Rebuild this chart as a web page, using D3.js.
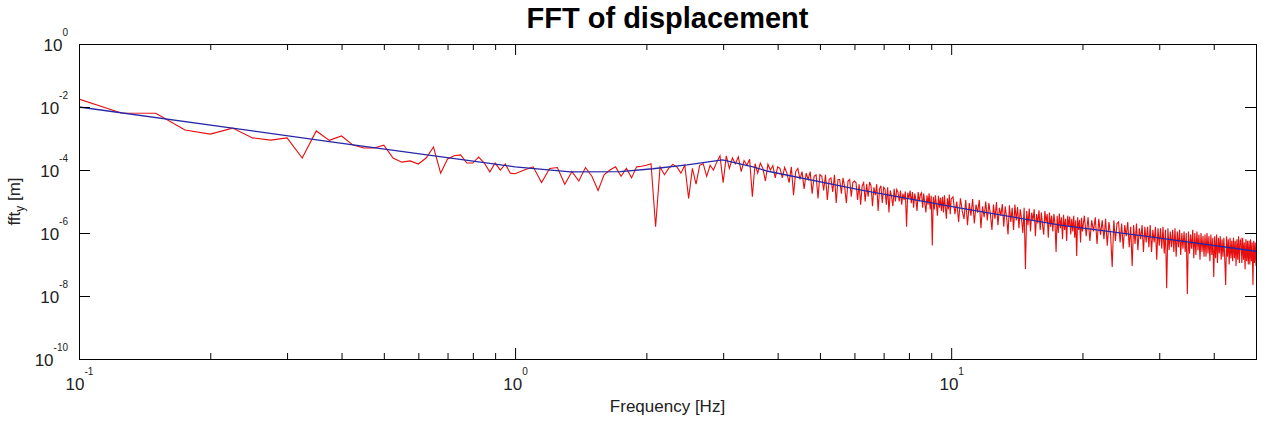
<!DOCTYPE html>
<html>
<head>
<meta charset="utf-8">
<script src="https://cdn.jsdelivr.net/npm/d3@7"></script>
<style>
  body { margin: 0; background: #fff; }
  svg { display: block; font-family: "Liberation Sans", Arial, Helvetica, sans-serif; }
</style>
</head>
<body>
<div id="chart"></div>
<script>
// FFT amplitude, stored as log10 of metres.
// Bins are evenly spaced; the dense part is thinned to a coarser step.
const lowStart = 0.1, lowStep = 0.025;
const lowExp = [
  -1.75, -2.19, -2.20, -2.73, -2.86, -2.67, -2.98, -3.05, -2.98, -3.62,
  -2.76, -3.06, -2.92, -3.21, -3.30, -3.30, -3.21, -3.62, -3.75, -3.71,
  -3.81, -3.62, -3.27, -4.10, -3.65, -3.55, -3.52, -3.78, -3.78, -3.59,
  -3.78, -4.06, -3.78, -4.00, -3.81, -4.10, -4.12,
];

const midStart = 1.05, midStep = 0.05;
const midExp = [
  -4.00, -3.90, -4.40, -3.95, -3.92, -4.45, -4.05, -4.35, -3.92, -4.20,
  -4.65, -4.15, -4.00, -3.90, -4.20, -3.95, -4.25, -3.90, -3.88, -3.85,
  -3.80, -5.80, -3.90, -4.15, -3.95, -3.82, -3.90, -4.10, -3.85, -4.90,
  -3.95, -4.45, -3.85, -3.80, -4.20, -3.85, -4.00, -3.75, -3.55, -4.40,
];

const highStart = 3.05, highStep = 0.05;
const highExp = [
  -3.55, -3.95, -3.62, -3.80, -3.58, -4.05, -3.70, -3.85, -3.66, -4.85,
  -3.80, -4.10, -3.78, -3.95, -4.35, -3.82, -4.00, -3.86, -4.25, -3.90,
  -3.95, -4.25, -3.92, -4.10, -4.40, -3.90, -4.80, -4.05, -3.95, -4.30,
  -4.05, -4.60, -4.10, -4.30, -4.05, -4.75, -4.20, -4.15, -4.90, -4.15,
  -4.20, -4.65, -4.15, -4.95, -4.30, -4.25, -4.70, -4.15, -5.05, -4.30,
  -4.30, -4.75, -4.25, -4.55, -5.05, -4.35, -4.30, -4.85, -4.40, -4.35,
  -4.40, -4.95, -4.45, -5.10, -4.50, -4.40, -5.00, -4.45, -4.85, -4.38,
  -4.50, -5.15, -4.55, -4.80, -4.45, -5.30, -4.60, -4.50, -5.05, -4.55,
  -4.60, -5.10, -4.55, -5.35, -4.65, -4.85, -5.15, -4.60, -5.00, -4.62,
  -4.70, -5.00, -4.65, -5.10, -4.75, -4.95, -4.68, -5.80, -4.72, -4.90,
  -4.65, -5.05, -4.70, -5.20, -4.75, -4.95, -5.30, -4.70, -5.00, -4.78,
  -4.72, -5.20, -4.75, -5.05, -5.35, -4.80, -5.10, -4.74, -5.25, -4.82,
  -6.40, -4.85, -5.25, -4.80, -5.10, -5.45, -4.82, -5.20, -4.88, -5.30,
  -4.85, -5.35, -4.80, -5.20, -5.55, -4.90, -5.25, -4.78, -5.40, -4.92,
];

const decStart = 10.1, decStep = 0.1;
const decExp = [
  -4.85, -5.40, -5.00, -5.65, -4.90, -5.30, -5.55, -4.95, -5.75, -5.05,
  -5.45, -4.92, -5.70, -5.10, -5.35, -4.95, -5.85, -5.15, -5.50, -5.00,
  -5.60, -5.05, -5.40, -5.90, -5.10, -5.55, -5.02, -5.75, -5.20, -5.45,
  -5.08, -5.80, -5.15, -5.50, -6.05, -5.12, -5.65, -5.20, -5.90, -5.10,
  -5.60, -5.18, -5.85, -5.25, -5.55, -6.00, -5.20, -7.14, -5.30, -5.75,
  -5.22, -5.95, -5.35, -5.60, -5.25, -6.10, -5.40, -5.70, -5.28, -5.90,
  -5.35, -5.75, -6.05, -5.30, -5.65, -5.40, -6.15, -5.35, -5.80, -5.45,
  -5.95, -5.40, -5.70, -6.60, -5.45, -6.00, -5.38, -5.85, -5.50, -6.20,
  -5.42, -5.90, -5.55, -6.25, -5.45, -5.80, -5.48, -6.05, -5.55, -5.95,
  -5.45, -6.15, -5.60, -6.73, -5.50, -5.90, -5.58, -6.30, -5.52, -5.95,
];

const topStart = 20.2, topStep = 0.2;
const topExp = [
  -5.45, -6.10, -5.50, -6.25, -5.60, -5.95, -5.50, -6.35, -5.55, -6.05,
  -5.60, -6.20, -5.55, -6.40, -5.65, -6.05, -7.08, -5.60, -6.25, -5.70,
  -5.65, -6.30, -5.70, -6.50, -5.75, -6.10, -5.65, -6.45, -5.80, -7.05,
  -5.75, -6.35, -5.70, -6.55, -5.85, -6.20, -5.75, -6.60, -5.80, -6.30,
  -5.80, -6.45, -5.75, -6.60, -5.90, -6.30, -5.80, -6.85, -5.85, -6.40,
  -5.85, -6.50, -5.80, -6.65, -5.90, -7.75, -5.85, -6.55, -5.95, -6.45,
  -5.90, -6.60, -5.85, -6.75, -5.95, -6.45, -5.90, -6.70, -6.00, -6.50,
  -5.95, -6.60, -6.00, -7.94, -5.95, -6.65, -6.05, -6.50, -5.90, -6.80,
  -6.00, -6.70, -5.95, -6.55, -6.05, -6.85, -6.00, -6.60, -6.10, -6.75,
  -6.05, -6.75, -6.00, -6.65, -6.10, -6.90, -6.05, -6.70, -6.15, -7.40,
  -6.10, -6.80, -6.05, -6.95, -6.15, -6.65, -6.10, -6.85, -6.20, -6.75,
  -6.15, -6.85, -7.65, -6.10, -6.75, -6.20, -7.00, -6.15, -6.80, -6.25,
  -6.90, -6.15, -6.80, -6.25, -7.05, -6.20, -6.85, -6.10, -6.95, -6.25,
  -6.20, -6.95, -6.15, -6.85, -6.30, -7.15, -6.20, -6.90, -6.25, -7.00,
  -6.25, -7.00, -6.20, -6.90, -6.30, -7.65, -6.25, -6.95, -6.30, -7.05,
];

// fitted curve (blue)
const fitFreq = [0.1, 0.386, 1.0, 1.34, 1.74, 2.07, 2.48, 2.99, 3.51, 3.80, 6.18, 10.5, 17.8, 30.1, 50];
const fitExp = [-2.0, -3.12, -3.90, -4.06, -4.05, -3.96, -3.84, -3.68, -3.90, -4.04, -4.63, -5.21, -5.75, -6.16, -6.58];

const xMajor = [0.1, 1, 10];
const yMajor = [1e-10, 1e-8, 1e-6, 1e-4, 1e-2, 1];

const margin = { top: 44, right: 12, bottom: 64, left: 79 };
const width = 1177;
const height = 315;

function bins(start, step, exps) {
  return exps.map((e, i) => ({ f: start + i * step, v: Math.pow(10, e) }));
}

const fft = [].concat(
  bins(lowStart, lowStep, lowExp),
  bins(midStart, midStep, midExp),
  bins(highStart, highStep, highExp),
  bins(decStart, decStep, decExp),
  bins(topStart, topStep, topExp),
);
const fit = fitFreq.map((f, i) => ({ f, v: Math.pow(10, fitExp[i]) }));

const x = d3.scaleLog().domain([0.1, 50]).range([0, width]);
const y = d3.scaleLog().domain([1e-10, 1]).range([height, 0]);
const xMinor = x.ticks().filter((t) => !xMajor.some((m) => Math.abs(m - t) < 1e-9));

const root = d3.select('#chart')
  .append('svg')
  .attr('width', 1268)
  .attr('height', 423);

root.append('text')
  .attr('x', margin.left + width / 2)
  .attr('y', 28)
  .attr('text-anchor', 'middle')
  .attr('font-size', 29)
  .attr('font-weight', 'bold')
  .text('FFT of displacement');

const svg = root.append('g')
  .attr('transform', `translate(${margin.left},${margin.top})`);

svg.append('clipPath')
  .attr('id', 'plot-clip')
  .append('rect')
  .attr('width', width)
  .attr('height', height);

const line = d3.line()
  .x((d) => x(d.f))
  .y((d) => y(d.v));

svg.append('path')
  .datum(fft)
  .attr('clip-path', 'url(#plot-clip)')
  .attr('fill', 'none')
  .attr('stroke', '#e60e0e')
  .attr('stroke-width', 1.1)
  .attr('d', line);

svg.append('path')
  .datum(fit)
  .attr('clip-path', 'url(#plot-clip)')
  .attr('fill', 'none')
  .attr('stroke', '#2626a8')
  .attr('stroke-width', 1.3)
  .attr('d', line);

function tickAxis(axis, transform) {
  const g = svg.append('g')
    .attr('transform', transform)
    .call(axis.tickSizeOuter(0).tickFormat(''));
  g.select('.domain').remove();
  g.selectAll('.tick line').attr('stroke', '#000');
  return g;
}

// minor ticks (x only), top and bottom, pointing inwards
tickAxis(d3.axisBottom(x).tickValues(xMinor).tickSize(-6), `translate(0,${height})`);
tickAxis(d3.axisTop(x).tickValues(xMinor).tickSize(-6), 'translate(0,0)');

const xBottom = tickAxis(d3.axisBottom(x).tickValues(xMajor).tickSize(-11), `translate(0,${height})`);
tickAxis(d3.axisTop(x).tickValues(xMajor).tickSize(-11), 'translate(0,0)');
const yLeft = tickAxis(d3.axisLeft(y).tickValues(yMajor).tickSize(-11), 'translate(0,0)');
tickAxis(d3.axisRight(y).tickValues(yMajor).tickSize(-11), `translate(${width},0)`);

function powerLabel(text, d) {
  text.append('tspan').text('10');
  text.append('tspan')
    .attr('dy', -15)
    .attr('font-size', 10)
    .text(String(Math.round(Math.log10(d))));
}

xBottom.selectAll('.tick text').remove();
xBottom.selectAll('.tick')
  .append('text')
  .attr('y', 31)
  .attr('fill', '#222')
  .attr('font-size', 17)
  .attr('font-family', '"Liberation Sans", Arial, sans-serif')
  .attr('text-anchor', 'middle')
  .each(function (d) { powerLabel(d3.select(this), d); });

yLeft.selectAll('.tick text').remove();
yLeft.selectAll('.tick')
  .append('text')
  .attr('x', -11)
  .attr('y', 6)
  .attr('fill', '#222')
  .attr('font-size', 17)
  .attr('font-family', '"Liberation Sans", Arial, sans-serif')
  .attr('text-anchor', 'end')
  .each(function (d) { powerLabel(d3.select(this), d); });

// frame
svg.append('rect')
  .attr('x', 0.5)
  .attr('y', 0.5)
  .attr('width', width)
  .attr('height', height)
  .attr('fill', 'none')
  .attr('stroke', '#000')
  .attr('stroke-width', 1);

svg.append('text')
  .attr('x', width / 2)
  .attr('y', height + 53)
  .attr('text-anchor', 'middle')
  .attr('font-size', 17)
  .attr('fill', '#222')
  .text('Frequency [Hz]');

const yLabel = svg.append('text')
  .attr('transform', `translate(${20 - margin.left},${height / 2}) rotate(-90)`)
  .attr('text-anchor', 'middle')
  .attr('font-size', 17)
  .attr('fill', '#222');
yLabel.append('tspan').text('fft');
yLabel.append('tspan').attr('dy', 4).attr('font-size', 12).text('y');
yLabel.append('tspan').attr('dy', -4).text(' [m]');
</script>
</body>
</html>
